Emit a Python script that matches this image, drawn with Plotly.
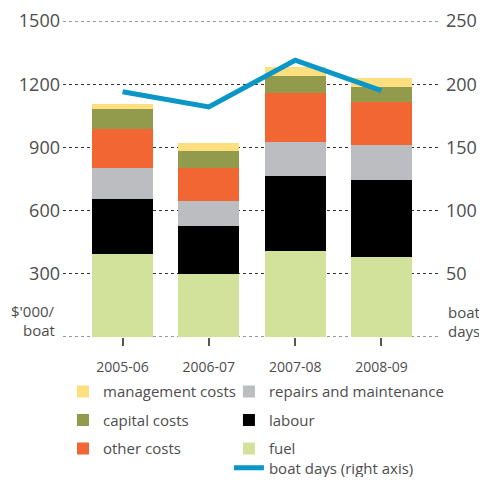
import plotly.graph_objects as go

years = ["2005-06", "2006-07", "2007-08", "2008-09"]

fuel = [395, 300, 409, 378]
labour = [261, 228, 356, 368]
repairs = [148, 118, 161, 166]
other_costs = [184, 158, 231, 205]
capital = [95, 79, 82, 70]
management = [23, 38, 43, 43]

boat_days = [194, 182, 219, 195]

TEXT = "#4d4d4d"
FONT = "Open Sans, sans-serif"

# stacked from the bottom up; legend split over two columns
series = [
    ("fuel", fuel, "#d3e29b", "legend2", 3),
    ("labour", labour, "#000000", "legend2", 2),
    ("repairs and maintenance", repairs, "#bcbdc0", "legend2", 1),
    ("other costs", other_costs, "#f26633", "legend", 3),
    ("capital costs", capital, "#929b4b", "legend", 2),
    ("management costs", management, "#fddf7f", "legend", 1),
]

fig = go.Figure()
for name, vals, col, leg, rank in series:
    fig.add_trace(go.Bar(x=years, y=vals, name=name, marker_color=col,
                         marker_line_width=0, legend=leg, legendrank=rank,
                         legendgroup=name))

fig.add_trace(go.Scatter(x=years, y=boat_days, name="boat days (right axis)",
                         mode="lines", line=dict(color="#0b96c8", width=5),
                         yaxis="y2", legend="legend3"))

# edge gridlines (plotly drops grid at the range ends)
for yv in (0, 1500):
    fig.add_hline(y=yv, line=dict(color="#333", width=1, dash="dot"),
                  layer="below")

leg_style = dict(xanchor="left", yanchor="top", traceorder="grouped",
                 tracegroupgap=6, font=dict(size=15, color=TEXT),
                 bgcolor="rgba(0,0,0,0)")

# the page keeps an 8px body margin, so the figure is made smaller
fig.update_layout(
    width=471, height=469,
    barmode="stack", bargap=0.293,
    plot_bgcolor="white", paper_bgcolor="white",
    margin=dict(l=55, r=38, t=13, b=140, autoexpand=False),
    font=dict(family=FONT, color=TEXT, size=14),
    xaxis=dict(type="category", range=[-0.69, 3.69], showgrid=False,
               zeroline=False, ticks="outside", ticklen=8, tickcolor="#555",
               tickwidth=1.5, ticklabelstandoff=9,
               tickfont=dict(size=14, color=TEXT)),
    yaxis=dict(range=[0, 1500], tickvals=[0, 300, 600, 900, 1200, 1500],
               ticktext=["", "300", "600", "900", "1200", "1500"],
               showgrid=True, gridcolor="#333", griddash="dot", gridwidth=1,
               zeroline=False, ticks="", ticklabelstandoff=2,
               tickfont=dict(size=18, color=TEXT)),
    yaxis2=dict(range=[0, 250], overlaying="y", side="right",
                tickvals=[50, 100, 150, 200, 250], showgrid=False,
                zeroline=False, ticklabelstandoff=4,
                tickfont=dict(size=18, color=TEXT)),
    legend=dict(x=0.0, y=-0.121, **leg_style),
    legend2=dict(x=0.439, y=-0.121, **leg_style),
    legend3=dict(x=0.439, y=-0.362, **leg_style),
)

# axis unit labels, one annotation per line to keep the lines close
units = [("$'000/", -0.016, 0.082, "right"), ("boat", -0.016, 0.022, "right"),
         ("boat", 1.013, 0.079, "left"), ("days", 1.013, 0.019, "left")]
for txt, ux, uy, anchor in units:
    fig.add_annotation(text=txt, xref="paper", yref="paper", x=ux, y=uy,
                       xanchor=anchor, yanchor="middle", showarrow=False,
                       font=dict(size=15, color=TEXT))

fig.write_html("out.html")
